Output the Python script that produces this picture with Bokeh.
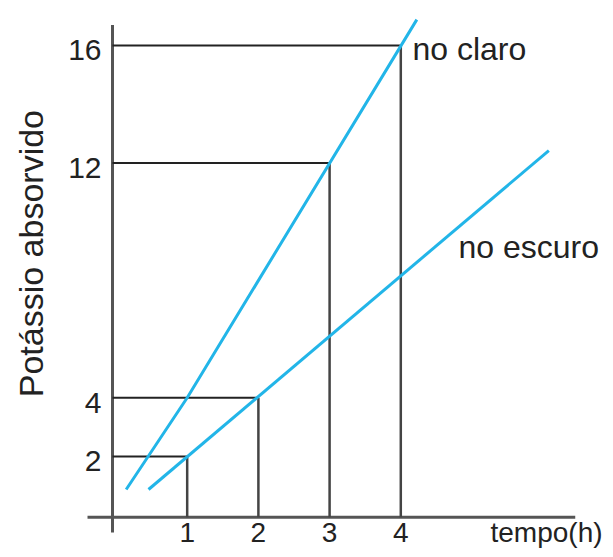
import math
from bokeh.plotting import figure
from bokeh.models import Range1d
from bokeh.core.properties import value
from bokeh.embed import file_html
from bokeh.resources import INLINE

# ---- data ----
time_ticks = [1, 2, 3, 4]
time_tick_labels = ["1", "2", "3", "4"]
k_ticks = [2, 4, 12, 16]
k_tick_labels = ["2", "4", "12", "16"]

# reference corners (tempo, potássio)
ref_x = [1, 2, 3, 4]
ref_y = [2, 4, 12, 16]

# "no claro" line
claro_x = [0.143, 1.0, 4.225]
claro_y = [0.875, 4.0, 16.88]
# "no escuro" line
escuro_x = [0.457, 6.079]
escuro_y = [0.875, 12.42]

x_label = "tempo(h)"
y_label = "Potássio absorvido"
claro_label = "no claro"
escuro_label = "no escuro"

# axis geometry (data units)
axis_x = -0.049   # y-axis position
axis_y = -0.068   # x-axis position

FONT = value("Liberation Sans")
BLUE = "#22b5e8"
TXT = "#222222"

p = figure(width=605, height=549, output_backend="svg", toolbar_location=None,
           x_range=Range1d(-1.622, 6.875), y_range=Range1d(-1.168, 17.531),
           x_axis_location=None, y_axis_location=None, min_border=0,
           outline_line_color=None, background_fill_color="white")
p.grid.visible = False

# axes lines
p.line([axis_x, axis_x], [-0.59, 16.7], line_color="#555555", line_width=3)
p.line([-0.40, 6.45], [axis_y, axis_y], line_color="#555555", line_width=3)

# reference lines: horizontal from y-axis, vertical down to x-axis
p.segment(x0=[axis_x] * len(ref_x), y0=ref_y, x1=ref_x, y1=ref_y,
          line_color="#222222", line_width=2)
p.segment(x0=ref_x, y0=ref_y, x1=ref_x, y1=[axis_y] * len(ref_x),
          line_color="#444444", line_width=2.5)

# data lines
p.line(claro_x, claro_y, line_color=BLUE, line_width=3)
p.line(escuro_x, escuro_y, line_color=BLUE, line_width=3)

# tick labels
p.text(x=time_ticks, y=[axis_y] * 4, text=time_tick_labels, text_align="center",
       text_baseline="alphabetic", y_offset=15, text_font=FONT,
       text_font_size="28px", text_color=TXT)
p.text(x=[axis_x] * 4, y=k_ticks, text=k_tick_labels, text_align="right",
       text_baseline="alphabetic", x_offset=-11, y_offset=5, text_font=FONT,
       text_font_size="30px", text_color=TXT)

# axis titles
p.text(x=[5.26], y=[axis_y], text=[x_label], text_align="left",
       text_baseline="alphabetic", y_offset=15, text_font=FONT,
       text_font_size="28px", text_color=TXT)
p.text(x=[-1.187], y=[8.91], text=[y_label], text_align="center",
       text_baseline="middle", angle=math.pi / 2, text_font=FONT,
       text_font_size="34px", text_color=TXT)

# line labels
p.text(x=[4.164], y=[15.89], text=[claro_label], text_align="left",
       text_baseline="alphabetic", text_font=FONT, text_font_size="32px",
       text_color=TXT)
p.text(x=[4.81], y=[9.15], text=[escuro_label], text_align="left",
       text_baseline="alphabetic", text_font=FONT, text_font_size="32px",
       text_color=TXT)

open("out.html", "w").write(file_html(p, INLINE))
